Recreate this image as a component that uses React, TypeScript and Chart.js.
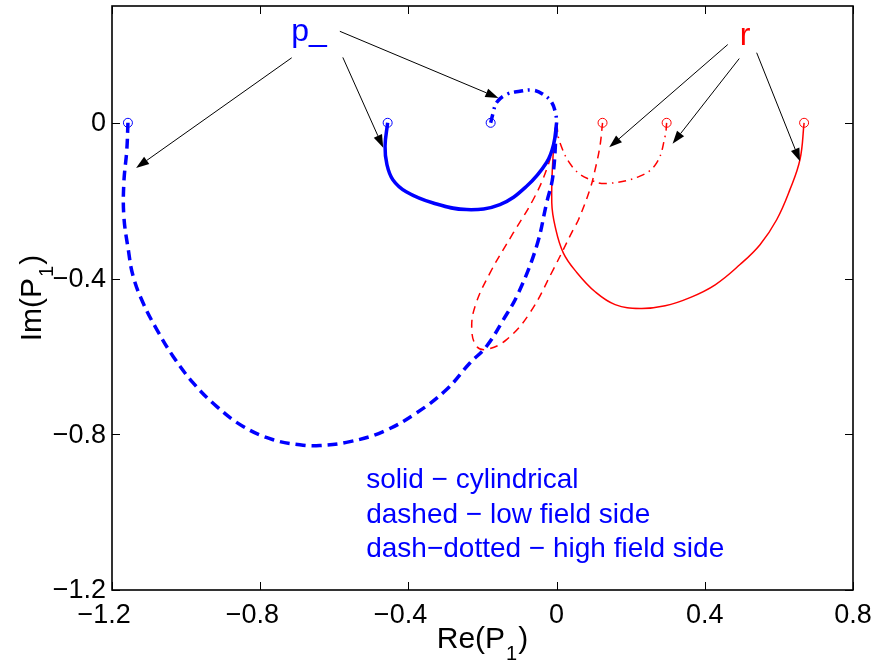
import { useEffect, useRef } from "react";
import { Chart, registerables } from "chart.js";

Chart.register(...registerables);

const BLUE = "#0000ff";
const RED = "#ff0000";
const FONT = '"Liberation Sans", Arial, Helvetica, sans-serif';

// Axis limits and tick positions
const X_RANGE = [-1.2, 0.8];
const Y_RANGE = [-1.2, 0.3];
const X_TICKS = [-1.2, -0.8, -0.4, 0, 0.4, 0.8];
const Y_TICKS = [-1.2, -0.8, -0.4, 0];

// p_ : cylindrical (solid)
const pCylX = [-0.456, -0.463, -0.458, -0.442, -0.406, -0.333, -0.243, -0.153, -0.081, -0.027, -0.008, 0];
const pCylY = [0, -0.06, -0.107, -0.146, -0.177, -0.206, -0.223, -0.21, -0.163, -0.102, -0.055, 0];

// p_ : low field side (dashed)
const pLowX = [-1.157, -1.16, -1.168, -1.168, -1.156, -1.143, -1.116, -1.079, -1.035, -0.981, -0.917, -0.846, -0.765, -0.693, -0.639, -0.558, -0.468, -0.378, -0.297, -0.234, -0.189, -0.144, -0.103, -0.054, -0.027, -0.01, 0];
const pLowY = [0, -0.069, -0.154, -0.24, -0.326, -0.394, -0.463, -0.531, -0.6, -0.668, -0.729, -0.78, -0.814, -0.827, -0.829, -0.819, -0.793, -0.745, -0.685, -0.617, -0.574, -0.506, -0.437, -0.317, -0.206, -0.137, 0];

// p_ : high field side (dash-dotted)
const pHighX = [-0.178, -0.171, -0.162, -0.135, -0.099, -0.064, -0.036, -0.013, -0.002, 0];
const pHighY = [0, 0.026, 0.052, 0.073, 0.081, 0.084, 0.073, 0.052, 0.021, 0];

// r : cylindrical (solid)
const rCylX = [0.668, 0.657, 0.63, 0.594, 0.549, 0.495, 0.428, 0.36, 0.293, 0.225, 0.158, 0.104, 0.055, 0.018, -0.004, -0.013, -0.009, 0];
const rCylY = [0, -0.094, -0.171, -0.249, -0.313, -0.364, -0.416, -0.449, -0.47, -0.477, -0.467, -0.434, -0.385, -0.334, -0.266, -0.206, -0.077, 0];

// r : low field side (dashed)
const rLowX = [0.124, 0.117, 0.104, 0.09, 0.059, 0.045, -0.009, -0.072, -0.135, -0.189, -0.216, -0.229, -0.22, -0.18, -0.117, -0.063, -0.027, -0.005, 0];
const rLowY = [0, -0.06, -0.12, -0.171, -0.249, -0.274, -0.377, -0.488, -0.557, -0.582, -0.574, -0.531, -0.471, -0.386, -0.283, -0.197, -0.12, -0.043, 0];

// r : high field side (dash-dotted)
const rHighX = [0.297, 0.293, 0.27, 0.225, 0.135, 0.09, 0.045, 0.009, 0];
const rHighY = [0, -0.034, -0.103, -0.137, -0.156, -0.146, -0.116, -0.051, 0];

// Annotation labels and their arrows (tail -> head), in data units
const P_LABEL = { text: "p_", x: -0.716, y: 0.211 };
const R_LABEL = { text: "r", x: 0.494, y: 0.201 };
const pArrowTails = [[-0.715, 0.167], [-0.577, 0.168], [-0.585, 0.235]];
const pArrowHeads = [[-1.135, -0.116], [-0.468, -0.064], [-0.157, 0.064]];
const rArrowTails = [[0.462, 0.201], [0.493, 0.165], [0.54, 0.18]];
const rArrowHeads = [[0.142, -0.063], [0.313, -0.054], [0.657, -0.099]];

// Line-style key
const KEY_LINES = ["solid \u2212 cylindrical", "dashed \u2212 low field side", "dash\u2212dotted \u2212 high field side"];
const KEY_X = -0.514;
const KEY_Y = [-0.937, -1.027, -1.114];

const toPoints = (xs: number[], ys: number[]) => xs.map((x, i) => ({ x, y: ys[i] }));

function curve(xs: number[], ys: number[], color: string, width: number, dash: number[]) {
  return {
    data: toPoints(xs, ys),
    showLine: true,
    borderColor: color,
    borderWidth: width,
    borderDash: dash,
    tension: 0.4,
    pointRadius: 0,
    fill: false,
  };
}

function markers(series: number[][][], color: string) {
  return {
    data: series.map(([xs, ys]) => ({ x: xs[0], y: ys[0] })),
    showLine: false,
    pointStyle: "circle",
    pointRadius: 4.5,
    pointBorderWidth: 1,
    pointBorderColor: color,
    pointBackgroundColor: "rgba(0,0,0,0)",
  };
}

function drawArrow(ctx: CanvasRenderingContext2D, x0: number, y0: number, x1: number, y1: number) {
  const ang = Math.atan2(y1 - y0, x1 - x0);
  const len = 13;
  const half = 4.5;
  const bx = x1 - len * Math.cos(ang);
  const by = y1 - len * Math.sin(ang);
  ctx.beginPath();
  ctx.moveTo(x0, y0);
  ctx.lineTo(bx, by);
  ctx.stroke();
  ctx.beginPath();
  ctx.moveTo(x1, y1);
  ctx.lineTo(bx + half * Math.sin(ang), by - half * Math.cos(ang));
  ctx.lineTo(bx - half * Math.sin(ang), by + half * Math.cos(ang));
  ctx.closePath();
  ctx.fill();
}

// Draws "main" + subscript + "tail" starting at (x, y) baseline, left aligned
function drawSubscripted(ctx: CanvasRenderingContext2D, main: string, sub: string, tail: string, x: number, y: number, size: number) {
  const big = `${size}px ${FONT}`;
  const small = `${Math.round(size * 0.67)}px ${FONT}`;
  ctx.textAlign = "left";
  ctx.textBaseline = "alphabetic";
  ctx.font = big;
  ctx.fillText(main, x, y);
  let cx = x + ctx.measureText(main).width;
  ctx.font = small;
  ctx.fillText(sub, cx + 1, y + size * 0.4);
  cx += ctx.measureText(sub).width + 2;
  ctx.font = big;
  ctx.fillText(tail, cx, y);
}

function subscriptedWidth(ctx: CanvasRenderingContext2D, main: string, sub: string, tail: string, size: number) {
  ctx.font = `${size}px ${FONT}`;
  const w1 = ctx.measureText(main).width + ctx.measureText(tail).width;
  ctx.font = `${Math.round(size * 0.67)}px ${FONT}`;
  return w1 + ctx.measureText(sub).width + 2;
}

const fmt = (v: number) => (Math.abs(v) < 1e-9 ? "0" : Math.abs(v).toFixed(1));

const axesOverlay = {
  id: "axesOverlay",
  afterDraw(chart: any) {
    const { ctx, chartArea: a, scales } = chart;
    const xs = scales.x;
    const ys = scales.y;
    const TICK = 8;
    ctx.save();

    // Annotation arrows
    ctx.strokeStyle = "#000";
    ctx.fillStyle = "#000";
    ctx.lineWidth = 1;
    const allTails = [...pArrowTails, ...rArrowTails];
    const allHeads = [...pArrowHeads, ...rArrowHeads];
    allTails.forEach((t, i) => {
      const h = allHeads[i];
      drawArrow(ctx, xs.getPixelForValue(t[0]), ys.getPixelForValue(t[1]), xs.getPixelForValue(h[0]), ys.getPixelForValue(h[1]));
    });

    // Annotation labels
    ctx.textAlign = "left";
    ctx.textBaseline = "alphabetic";
    ctx.font = `32px ${FONT}`;
    ctx.fillStyle = BLUE;
    ctx.fillText(P_LABEL.text, xs.getPixelForValue(P_LABEL.x), ys.getPixelForValue(P_LABEL.y));
    ctx.fillStyle = RED;
    ctx.fillText(R_LABEL.text, xs.getPixelForValue(R_LABEL.x), ys.getPixelForValue(R_LABEL.y));

    // Line-style key
    ctx.font = `28px ${FONT}`;
    ctx.fillStyle = BLUE;
    KEY_LINES.forEach((line, i) => {
      ctx.fillText(line, xs.getPixelForValue(KEY_X), ys.getPixelForValue(KEY_Y[i]));
    });

    // Axes box
    ctx.strokeStyle = "#000";
    ctx.lineWidth = 1.6;
    ctx.strokeRect(a.left, a.top, a.right - a.left, a.bottom - a.top);

    // Inward tick marks on all four sides
    ctx.lineWidth = 1;
    ctx.beginPath();
    X_TICKS.forEach((v) => {
      const px = Math.round(xs.getPixelForValue(v)) + 0.5;
      ctx.moveTo(px, a.bottom);
      ctx.lineTo(px, a.bottom - TICK);
      ctx.moveTo(px, a.top);
      ctx.lineTo(px, a.top + TICK);
    });
    Y_TICKS.forEach((v) => {
      const py = Math.round(ys.getPixelForValue(v)) + 0.5;
      ctx.moveTo(a.left, py);
      ctx.lineTo(a.left + TICK, py);
      ctx.moveTo(a.right, py);
      ctx.lineTo(a.right - TICK, py);
    });
    ctx.stroke();

    // Tick labels
    ctx.fillStyle = "#000";
    ctx.font = `27px ${FONT}`;
    ctx.textBaseline = "alphabetic";
    ctx.textAlign = "left";
    const minusW = ctx.measureText("\u2212").width;
    X_TICKS.forEach((v) => {
      const num = fmt(v);
      const nw = ctx.measureText(num).width;
      const px = xs.getPixelForValue(v);
      const left = px - nw / 2 - (v < 0 ? minusW : 0);
      ctx.fillText((v < 0 ? "\u2212" : "") + num, left, a.bottom + 33);
    });
    ctx.textAlign = "right";
    ctx.textBaseline = "middle";
    Y_TICKS.forEach((v) => {
      const label = (v < 0 ? "\u2212" : "") + fmt(v);
      ctx.fillText(label, a.left - 6, ys.getPixelForValue(v) + 1);
    });

    // Axis titles
    const cxMid = (a.left + a.right) / 2;
    const wx = subscriptedWidth(ctx, "Re(P", "1", ")", 30);
    drawSubscripted(ctx, "Re(P", "1", ")", cxMid - wx / 2, 648, 30);

    const cyMid = (a.top + a.bottom) / 2;
    ctx.save();
    ctx.translate(41, cyMid);
    ctx.rotate(-Math.PI / 2);
    const wy = subscriptedWidth(ctx, "Im(P", "1", ")", 30);
    drawSubscripted(ctx, "Im(P", "1", ")", -wy / 2, 0, 30);
    ctx.restore();

    ctx.restore();
  },
};

export default function App() {
  const canvasRef = useRef<HTMLCanvasElement | null>(null);

  useEffect(() => {
    const canvas = canvasRef.current;
    if (!canvas) return;
    const chart = new Chart(canvas, {
      type: "scatter",
      data: {
        datasets: [
          curve(pLowX, pLowY, BLUE, 3.5, [10, 6]),
          curve(pHighX, pHighY, BLUE, 3.5, [9, 5, 2, 5]),
          curve(pCylX, pCylY, BLUE, 3.5, []),
          curve(rCylX, rCylY, RED, 1.5, []),
          curve(rLowX, rLowY, RED, 1.5, [8, 6]),
          curve(rHighX, rHighY, RED, 1.5, [8, 5, 1.5, 5]),
          markers([[pLowX, pLowY], [pCylX, pCylY], [pHighX, pHighY]], BLUE),
          markers([[rLowX, rLowY], [rHighX, rHighY], [rCylX, rCylY]], RED),
        ] as any,
      },
      options: {
        animation: false,
        responsive: false,
        devicePixelRatio: 1,
        layout: { padding: { left: 112, right: 37, top: 6, bottom: 71 } },
        plugins: { legend: { display: false }, tooltip: { enabled: false } },
        scales: {
          x: { type: "linear", min: X_RANGE[0], max: X_RANGE[1], display: false },
          y: { type: "linear", min: Y_RANGE[0], max: Y_RANGE[1], display: false },
        },
      },
      plugins: [axesOverlay],
    });
    return () => chart.destroy();
  }, []);

  return (
    <div style={{ position: "absolute", left: 0, top: 0, width: 890, height: 661, background: "#fff" }}>
      <canvas ref={canvasRef} width={890} height={661} style={{ width: 890, height: 661, display: "block" }} />
    </div>
  );
}
